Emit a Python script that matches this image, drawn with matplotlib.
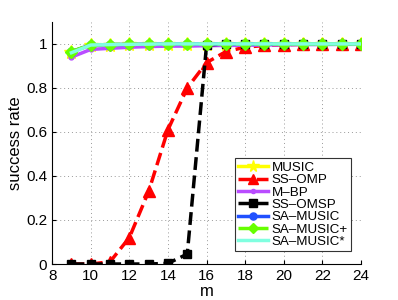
import matplotlib
matplotlib.use("Agg")
from matplotlib import pyplot as plt

plt.rcParams['font.family'] = ['Liberation Sans', 'DejaVu Sans']

m = [9, 10, 11, 12, 13, 14, 15, 16, 17, 18, 19, 20, 21, 22, 23, 24]

music = [0.965, 0.995, 0.997, 0.998, 0.999, 1, 1, 1, 1, 1, 1, 1, 1, 1, 1, 1]
ss_omp = [0.0, 0.0, 0.01, 0.12, 0.33, 0.61, 0.80, 0.915, 0.965, 0.985, 0.993, 0.996, 0.998, 0.999, 1, 1]
m_bp = [0.94, 0.975, 0.98, 0.985, 0.988, 0.99, 0.99, 0.992, 0.993, 0.994, 0.995, 0.996, 0.997, 0.997, 0.998, 0.998]
ss_omsp = [0.0, 0.0, 0.0, 0.0, 0.0, 0.003, 0.045, 0.995, 1, 1, 1, 1, 1, 1, 1, 1]
sa_music = [0.965, 0.995, 0.997, 0.998, 0.999, 1, 1, 1, 1, 1, 1, 1, 1, 1, 1, 1]
sa_music_p = [0.965, 0.996, 0.997, 0.998, 0.999, 1, 1, 1, 1, 1, 1, 1, 1, 1, 1, 1]
sa_music_s = [0.96, 0.995, 0.997, 0.998, 0.999, 1, 1, 1, 1, 1, 1, 1, 1, 1, 1, 1]

fig = plt.figure(figsize=(3.98, 3.0), dpi=100)
ax = fig.add_axes([0.131, 0.12, 0.776, 0.807])

ax.plot(m, music, '-', color='#ffff00', lw=2.5, marker='*', ms=10, label='MUSIC')
ax.plot(m, ss_omp, '--', color='#ff0000', lw=2.5, marker='^', ms=8, label='SS\u2013OMP')
ax.plot(m, m_bp, '-', color='#b94cff', lw=2.5, marker='.', ms=7, label='M\u2013BP')
ax.plot(m, ss_omsp, '--', color='black', lw=2.5, marker='s', ms=6, label='SS\u2013OMSP')
ax.plot(m, sa_music, '-', color='#2050ff', lw=2.5, marker='o', ms=6, label='SA\u2013MUSIC')
ax.plot(m, sa_music_p, '--', color='#66ff00', lw=2.5, marker='D', ms=6, label='SA\u2013MUSIC+')
ax.plot(m, sa_music_s, '-', color='#80ffe0', lw=2.5, label='SA\u2013MUSIC*')

ax.set_xlim(8, 24)
ax.set_ylim(0, 1.1)
ax.set_xticks(range(8, 25, 2))
ax.set_yticks([0, 0.2, 0.4, 0.6, 0.8, 1])
ax.set_yticklabels(['0', '0.2', '0.4', '0.6', '0.8', '1'])
ax.grid(True, linestyle=(0, (1, 3)), color='#999999', lw=0.7)
ax.spines['top'].set_visible(False)
ax.spines['right'].set_visible(False)
ax.tick_params(labelsize=11, direction='in', length=3)
ax.set_xlabel('m', fontsize=12, labelpad=1)
ax.set_ylabel('success rate', fontsize=12, labelpad=2)

leg = ax.legend(loc='lower right', fontsize=9.6, handlelength=2.2, labelspacing=0.0,
                borderpad=0.25, handletextpad=0.3, fancybox=False, framealpha=1,
                bbox_to_anchor=(0.99, 0.025), markerscale=0.85)
leg.get_frame().set_edgecolor('#333333')
leg.get_frame().set_linewidth(0.8)

fig.savefig('out.png', dpi=100)
